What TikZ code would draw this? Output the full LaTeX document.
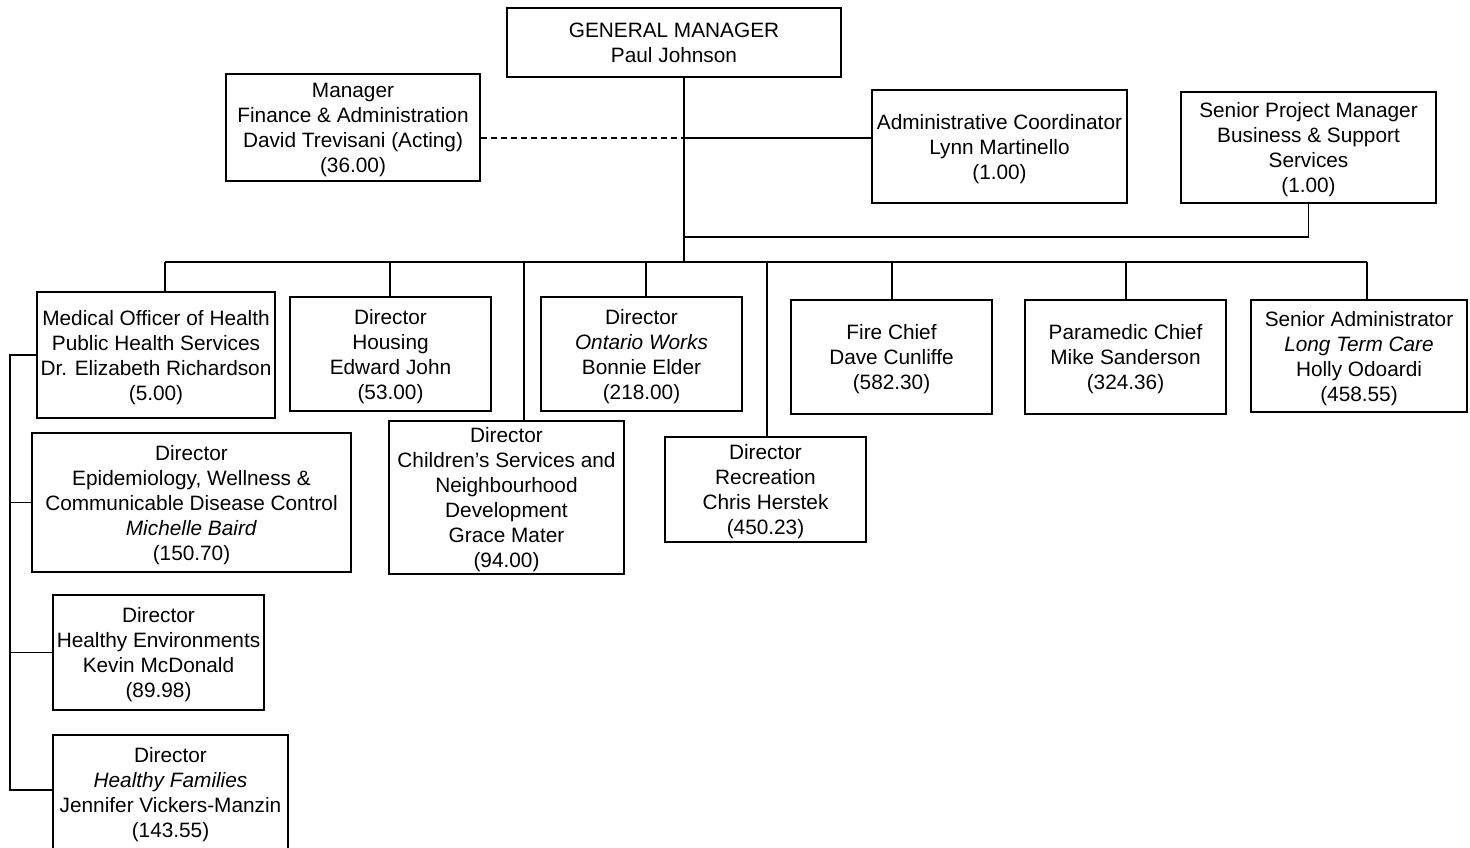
\documentclass[tikz,border=0pt]{standalone}
\usepackage{fontspec}
\setmainfont{Liberation Sans}
\usetikzlibrary{calc}
\begin{document}
\begin{tikzpicture}[x=1pt,y=-1pt,
  every path/.style={line width=1.3pt},
  box/.style 2 args={draw, line width=1.3pt, align=center, inner sep=0pt,
    minimum width=#1pt, minimum height=#2pt, text depth=0pt,
    font=\fontsize{20.8}{25}\selectfont},
  link/.style={line width=1.3pt},
  dotlink/.style={line width=1.2pt, dashed, dash pattern=on 6pt off 4pt}]
\useasboundingbox (0,0) rectangle (1470,847);

% top level
\node[box={334}{69}] (gm) at (674,42.5) {GENERAL MANAGER\\Paul Johnson};
\node[box={254}{107}] (fin) at (353,127.5) {Manager\\Finance \& Administration\\David Trevisani (Acting)\\(36.00)};
\node[box={255}{113}] (adm) at (999.5,146.5) {Administrative Coordinator\\Lynn Martinello\\(1.00)};
\node[box={255}{111}] (spm) at (1308.5,147.5) {Senior Project Manager\\Business \& Support\\Services\\(1.00)};

% direct reports
\node[box={238}{126}] (moh) at (156,355) {Medical Officer of Health\\Public Health Services\\Dr. Elizabeth Richardson\\(5.00)};
\node[box={201}{114}] (hou) at (390.5,354) {Director\\Housing\\Edward John\\(53.00)};
\node[box={235}{153}] (chi) at (506.5,497.5) {Director\\Children’s Services and\\Neighbourhood\\Development\\Grace Mater\\(94.00)};
\node[box={201}{114}] (ont) at (641.5,354) {Director\\\textit{Ontario Works}\\Bonnie Elder\\(218.00)};
\node[box={201}{105}] (rec) at (765.5,489.5) {Director\\Recreation\\Chris Herstek\\(450.23)};
\node[box={201}{114}] (fir) at (891.5,357) {Fire Chief\\Dave Cunliffe\\(582.30)};
\node[box={201}{114}] (par) at (1125.5,357) {Paramedic Chief\\Mike Sanderson\\(324.36)};
\node[box={216}{112}] (lt) at (1359,356) {Senior Administrator\\\textit{Long Term Care}\\Holly Odoardi\\(458.55)};

% public health directors
\node[box={319}{139}] (epi) at (191.5,502.5) {Director\\Epidemiology, Wellness \&\\Communicable Disease Control\\\textit{Michelle Baird}\\(150.70)};
\node[box={211}{115}] (env) at (158.5,652.5) {Director\\Healthy Environments\\Kevin McDonald\\(89.98)};
\node[box={235}{115}] (fam) at (170.5,792.5) {Director\\\textit{Healthy Families}\\Jennifer Vickers-Manzin\\(143.55)};

% connector points
\coordinate (trunk) at (684,262);
\coordinate (side) at (684,138);
\coordinate (loop) at (684,237);
\coordinate (d1) at (165,262);
\coordinate (d2) at (390,262);
\coordinate (d3) at (524,262);
\coordinate (d4) at (646,262);
\coordinate (d5) at (767,262);
\coordinate (d6) at (892,262);
\coordinate (d7) at (1126,262);
\coordinate (d8) at (1367,262);
\coordinate (spine) at (10,355);

% trunk and staff links
\draw[link] ($(gm.south)+(10,0)$) -- (trunk);
\draw[dotlink] (fin.east |- side) -- (side);
\draw[link] (side) -- (side -| adm.west);
\draw[link] (spm.south) -- (spm.south |- loop) -- (loop);

% bus and drops
\draw[link] (d1) -- (d8);
\draw[link] (d1) -- (d1 |- moh.north);
\draw[link] (d2) -- (d2 |- hou.north);
\draw[link] (d3) -- (d3 |- chi.north);
\draw[link] (d4) -- (d4 |- ont.north);
\draw[link] (d5) -- (d5 |- rec.north);
\draw[link] (d6) -- (d6 |- fir.north);
\draw[link] (d7) -- (d7 |- par.north);
\draw[link] (d8) -- (d8 |- lt.north);

% public health spine
\draw[link] (moh.west) -- (spine) |- ($(fam.west)+(0,-2.5)$);
\draw[link] (spine |- epi.west) -- (epi.west);
\draw[link] (spine |- env.west) -- (env.west);
\end{tikzpicture}
\end{document}
